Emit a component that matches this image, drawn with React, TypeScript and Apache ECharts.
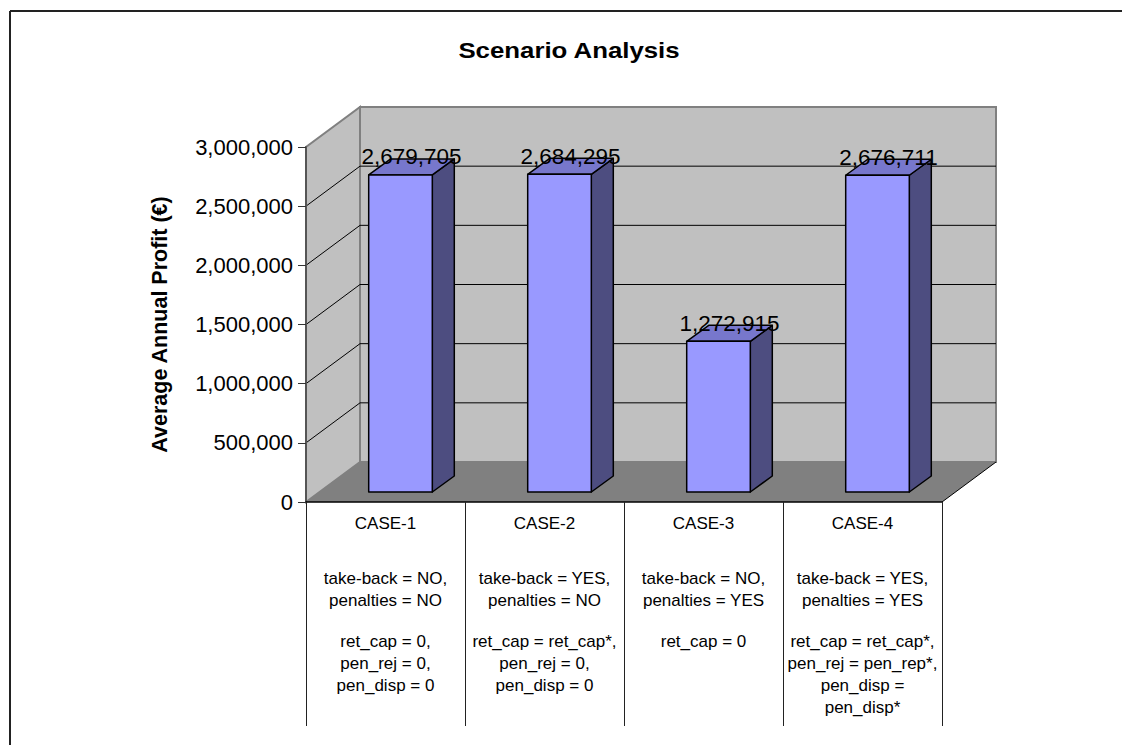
import React, { useEffect, useRef } from 'react';
import * as echarts from 'echarts';

// ---------- data ----------
const categories = ['CASE-1', 'CASE-2', 'CASE-3', 'CASE-4'];
const profits = [2679705, 2684295, 1272915, 2676711];
const conditionLines = [
  ['take-back = NO,', 'penalties = NO'],
  ['take-back = YES,', 'penalties = NO'],
  ['take-back = NO,', 'penalties = YES'],
  ['take-back = YES,', 'penalties = YES'],
];
const parameterLines = [
  ['ret_cap = 0,', 'pen_rej = 0,', 'pen_disp = 0'],
  ['ret_cap = ret_cap*,', 'pen_rej = 0,', 'pen_disp = 0'],
  ['ret_cap = 0'],
  ['ret_cap = ret_cap*,', 'pen_rej = pen_rep*,', 'pen_disp =', 'pen_disp*'],
];
const yTicks = [0, 500000, 1000000, 1500000, 2000000, 2500000, 3000000];
const Y_MIN = 0;
const Y_MAX = 3000000;
const Y_INTERVAL = 500000;
const TITLE = 'Scenario Analysis';
const Y_NAME = 'Average Annual Profit (€)';

// ---------- style constants ----------
const FONT = '"Liberation Sans", Arial, Helvetica, sans-serif';
const DEPTH_DX = 54;
const DEPTH_DY = 40;
const BAR_FRONT_DX = 15;
const BAR_FRONT_DY = 10;
const BAR_DEPTH_DX = 22;
const BAR_DEPTH_DY = 16;

const fmt = (v: number) => Math.round(v).toLocaleString('en-US');

export default function App() {
  const ref = useRef<HTMLDivElement>(null);

  useEffect(() => {
    if (!ref.current) return;
    const chart = echarts.init(ref.current, undefined, { renderer: 'svg' });

    const option: any = {
      animation: false,
      backgroundColor: '#ffffff',
      textStyle: { fontFamily: FONT },
      grid: {
        left: 306,
        right: 180,
        top: 147,
        bottom: 243,
        containLabel: false,
        outerBoundsMode: 'none',
      },
      xAxis: {
        type: 'category',
        data: categories,
        boundaryGap: true,
        z: 10,
        axisLine: { show: true, lineStyle: { color: '#000', width: 1.5 } },
        axisTick: {
          show: true,
          interval: 0,
          length: 224,
          lineStyle: { color: '#222', width: 1 },
        },
        axisLabel: {
          show: true,
          interval: 0,
          margin: 11,
          fontSize: 17,
          lineHeight: 20,
          color: '#000',
          fontFamily: FONT,
        },
        splitLine: { show: false },
      },
      yAxis: {
        type: 'value',
        min: Y_MIN,
        max: Y_MAX,
        interval: Y_INTERVAL,
        z: 10,
        name: Y_NAME,
        nameLocation: 'middle',
        nameRotate: 90,
        nameGap: 135,
        nameTextStyle: {
          fontSize: 21.5,
          fontWeight: 'bold',
          color: '#000',
          fontFamily: FONT,
        },
        axisLine: { show: true, lineStyle: { color: '#555', width: 2 } },
        axisTick: { show: true, length: 8, lineStyle: { color: '#333', width: 1 } },
        axisLabel: {
          margin: 13,
          fontSize: 22,
          color: '#000',
          fontFamily: FONT,
          formatter: (v: number) => fmt(v),
        },
        splitLine: { show: false },
      },
      graphic: [
        {
          type: 'line',
          shape: { x1: 10, y1: 11, x2: 1122, y2: 11 },
          style: { stroke: '#222', lineWidth: 2 },
          z: 100,
        },
        {
          type: 'line',
          shape: { x1: 10, y1: 11, x2: 10, y2: 745 },
          style: { stroke: '#222', lineWidth: 2 },
          z: 100,
        },
        {
          type: 'text',
          x: 569,
          y: 51,
          scaleX: 1.2,
          z: 100,
          style: {
            text: TITLE,
            x: 0,
            y: 0,
            align: 'center',
            verticalAlign: 'middle',
            fontSize: 21.5,
            fontWeight: 'bold',
            fontFamily: FONT,
            fill: '#000',
          },
        },
      ],
      series: [
        // 3D walls, floor and gridlines
        {
          type: 'custom',
          name: 'walls',
          silent: true,
          z: 1,
          clip: false,
          data: [[0, 0]],
          renderItem: (params: any, api: any) => {
            const bw = api.size([1, 0])[0];
            const [c0, y0] = api.coord([0, 0]);
            const cN = api.coord([categories.length - 1, 0])[0];
            const L = c0 - bw / 2;
            const R = cN + bw / 2;
            const yTop = api.coord([0, Y_MAX])[1];
            const children: any[] = [];
            children.push({
              type: 'rect',
              shape: { x: L + DEPTH_DX, y: yTop - DEPTH_DY, width: R - L, height: y0 - yTop },
              style: { fill: '#c0c0c0', stroke: '#808080', lineWidth: 2 },
            });
            children.push({
              type: 'polygon',
              shape: {
                points: [
                  [L, y0],
                  [L, yTop],
                  [L + DEPTH_DX, yTop - DEPTH_DY],
                  [L + DEPTH_DX, y0 - DEPTH_DY],
                ],
              },
              style: { fill: '#c0c0c0', stroke: '#808080', lineWidth: 2 },
            });
            children.push({
              type: 'polygon',
              shape: {
                points: [
                  [L, y0],
                  [L + DEPTH_DX, y0 - DEPTH_DY],
                  [R + DEPTH_DX, y0 - DEPTH_DY],
                  [R, y0],
                ],
              },
              style: { fill: '#808080', stroke: 'none' },
            });
            yTicks.forEach((t) => {
              if (t === Y_MIN || t === Y_MAX) return;
              const y = api.coord([0, t])[1];
              children.push({
                type: 'polyline',
                shape: {
                  points: [
                    [L, y],
                    [L + DEPTH_DX, y - DEPTH_DY],
                    [R + DEPTH_DX, y - DEPTH_DY],
                  ],
                },
                style: { stroke: '#000', lineWidth: 1, fill: 'none' },
              });
            });
            children.push({
              type: 'line',
              shape: { x1: R, y1: y0, x2: R + DEPTH_DX, y2: y0 - DEPTH_DY },
              style: { stroke: '#000', lineWidth: 1 },
            });
            return { type: 'group', children };
          },
        },
        // 3D bars with value labels
        {
          type: 'custom',
          name: 'Average Annual Profit',
          z: 3,
          clip: false,
          encode: { x: 0, y: 1 },
          data: profits.map((v, i) => [i, v]),
          renderItem: (params: any, api: any) => {
            const idx = api.value(0);
            const v = api.value(1);
            const bw = api.size([1, 0])[0];
            const [cx, y0] = api.coord([idx, 0]);
            const yv = api.coord([idx, v])[1];
            const w = bw * 0.4;
            const x1 = cx - w / 2 + BAR_FRONT_DX;
            const x2 = x1 + w;
            const yb = y0 - BAR_FRONT_DY;
            const yt = yv - BAR_FRONT_DY;
            const dx = BAR_DEPTH_DX;
            const dy = BAR_DEPTH_DY;
            const stroke = { stroke: '#000', lineWidth: 1.5, lineJoin: 'round' };
            return {
              type: 'group',
              children: [
                {
                  type: 'polygon',
                  shape: { points: [[x2, yb], [x2, yt], [x2 + dx, yt - dy], [x2 + dx, yb - dy]] },
                  style: { fill: '#4d4d80', ...stroke },
                },
                {
                  type: 'polygon',
                  shape: { points: [[x1, yt], [x2, yt], [x2 + dx, yt - dy], [x1 + dx, yt - dy]] },
                  style: { fill: '#7777cc', ...stroke },
                },
                {
                  type: 'rect',
                  shape: { x: x1, y: yt, width: w, height: yb - yt },
                  style: { fill: '#9999ff', ...stroke },
                },
                {
                  type: 'text',
                  z2: 10,
                  style: {
                    text: fmt(v),
                    x: x1 + w / 2 + dx / 2,
                    y: yt - dy - 2,
                    align: 'center',
                    verticalAlign: 'middle',
                    fontSize: 22.5,
                    fontFamily: FONT,
                    fill: '#000',
                  },
                },
              ],
            };
          },
        },
        // data table texts under the axis
        {
          type: 'custom',
          name: 'table',
          silent: true,
          z: 3,
          clip: false,
          data: categories.map((c, i) => [i, 0]),
          renderItem: (params: any, api: any) => {
            const idx = params.dataIndex;
            const [cx, y0] = api.coord([idx, 0]);
            const children: any[] = [];
            const mk = (t: string, y: number) => ({
              type: 'text',
              style: {
                text: t,
                x: cx,
                y,
                align: 'center',
                verticalAlign: 'middle',
                fontSize: 17,
                fontFamily: FONT,
                fill: '#000',
              },
            });
            conditionLines[idx].forEach((t, k) => children.push(mk(t, y0 + 76 + k * 22)));
            parameterLines[idx].forEach((t, k) => children.push(mk(t, y0 + 139 + k * 22)));
            return { type: 'group', children };
          },
        },
      ],
    };

    chart.setOption(option);
    return () => chart.dispose();
  }, []);

  return (
    <div
      ref={ref}
      style={{ position: 'fixed', left: 0, top: 0, width: 1122, height: 745 }}
    />
  );
}
